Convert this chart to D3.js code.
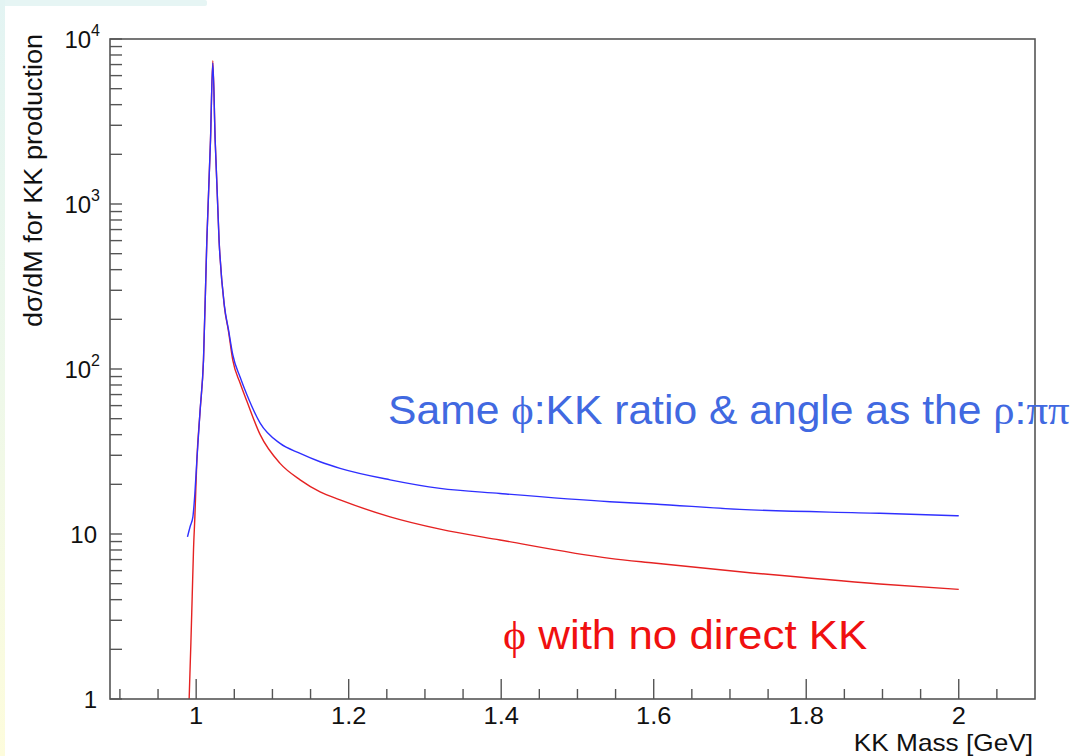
<!DOCTYPE html>
<html>
<head>
<meta charset="utf-8">
<script src="https://cdn.jsdelivr.net/npm/d3@7"></script>
<style>
  html, body { margin: 0; padding: 0; background: #fff; }
  svg { display: block; }
  text { font-family: "Liberation Sans", Arial, Helvetica, sans-serif; }
</style>
</head>
<body>
<svg id="chart" width="1080" height="756"></svg>
<script>
// KK invariant mass (GeV) and cross section, phi only (no direct KK)
const massNoDirect = [0.9890, 0.9908, 0.9931, 0.9948, 0.9965, 0.9983, 1.0009, 1.0052, 1.0096, 1.0140,
  1.0188, 1.0218, 1.0249, 1.0300, 1.0370, 1.0425, 1.0480, 1.0577, 1.0664, 1.0839, 1.1100,
  1.1363, 1.1625, 1.1887, 1.2543, 1.3198, 1.3984, 1.5426, 1.6000, 1.7130, 1.8965, 2.0000];
const xsecNoDirect = [0.45, 1.0, 2.2, 4.2, 8.0, 12.7, 28, 56, 113, 605,
  2440, 7400, 2440, 605, 239, 168, 113, 82, 64, 40, 26.8,
  21.3, 18.0, 16.1, 12.7, 10.7, 9.2, 7.12, 6.67, 5.91, 4.98, 4.62];

// Same phi:KK ratio and angle as rho:pipi
const massSameRatio = [0.9886, 0.9921, 0.9957, 0.9983, 1.0009, 1.0052, 1.0096, 1.0140, 1.0188, 1.0218,
  1.0249, 1.0300, 1.0370, 1.0425, 1.0480, 1.0577, 1.0664, 1.0839, 1.1100, 1.1363, 1.1625,
  1.1887, 1.2543, 1.3198, 1.3984, 1.5426, 1.6000, 1.7130, 1.8965, 2.0000];
const xsecSameRatio = [9.6, 11.1, 12.7, 17.6, 28, 56.5, 113, 605, 2440, 7150,
  2440, 605, 242, 172, 122, 89, 70, 47, 35.4, 30.8, 27.4,
  25, 21.3, 18.9, 17.6, 15.7, 15.2, 14.1, 13.35, 12.9];

// Axis ticks
const xMajorTicks = [1.0, 1.2, 1.4, 1.6, 1.8, 2.0];
const xTickLabels = ["1", "1.2", "1.4", "1.6", "1.8", "2"];
const xMinorTicks = [0.90, 0.95, 1.05, 1.10, 1.15, 1.25, 1.30, 1.35, 1.45, 1.50, 1.55,
  1.65, 1.70, 1.75, 1.85, 1.90, 1.95, 2.05];
const yDecades = [1, 10, 100, 1000, 10000];
const yTickBase = ["1", "10", "10", "10", "10"];
const yTickExp = ["", "", "2", "3", "4"];

const svg = d3.select("#chart");
const W = 1080, H = 756;
const frame = { left: 110, right: 1035, top: 39, bottom: 699 };

// slide background strips
const defs = svg.append("defs");
const grad = defs.append("linearGradient").attr("id", "sideGrad")
  .attr("x1", 0).attr("y1", 0).attr("x2", 0).attr("y2", 1);
grad.append("stop").attr("offset", "0%").attr("stop-color", "#e3f4f3");
grad.append("stop").attr("offset", "50%").attr("stop-color", "#eef8ea");
grad.append("stop").attr("offset", "100%").attr("stop-color", "#fdfcdc");
svg.append("rect").attr("x", 0).attr("y", 0).attr("width", W).attr("height", H).attr("fill", "#fff");
svg.append("rect").attr("x", 0).attr("y", 0).attr("width", 207).attr("height", 6).attr("rx", 2).attr("fill", "#e6f5f4");
svg.append("rect").attr("x", 0).attr("y", 0).attr("width", 5).attr("height", H).attr("fill", "url(#sideGrad)");

const x = d3.scaleLinear().domain([0.887, 2.1]).range([frame.left, frame.right]);
const y = d3.scaleLog().domain([1, 10000]).range([frame.bottom, frame.top]);

defs.append("clipPath").attr("id", "plotClip").append("rect")
  .attr("x", frame.left).attr("y", frame.top)
  .attr("width", frame.right - frame.left).attr("height", frame.bottom - frame.top);

// curves
const line = d3.line()
  .x(d => x(d[0]))
  .y(d => y(d[1]))
  .curve(d3.curveMonotoneX);

const curves = svg.append("g").attr("clip-path", "url(#plotClip)");
curves.append("path")
  .datum(d3.zip(massNoDirect, xsecNoDirect))
  .attr("d", line)
  .attr("fill", "none").attr("stroke", "#e52222").attr("stroke-width", 1.4);
curves.append("path")
  .datum(d3.zip(massSameRatio, xsecSameRatio))
  .attr("d", line)
  .attr("fill", "none").attr("stroke", "#2f2fff").attr("stroke-width", 1.4);

// frame
const axisColor = "#555";
svg.append("rect")
  .attr("x", frame.left).attr("y", frame.top)
  .attr("width", frame.right - frame.left).attr("height", frame.bottom - frame.top)
  .attr("fill", "none").attr("stroke", axisColor).attr("stroke-width", 1.6);

// text placed with a slight horizontal widening of the glyphs
function wideText(parent, px, py, sx, rot) {
  const tr = `translate(${px},${py})` + (rot ? ` rotate(${rot})` : "") + ` scale(${sx},1)`;
  return parent.append("text").attr("transform", tr).attr("x", 0).attr("y", 0);
}

// x ticks
const gx = svg.append("g");
gx.selectAll("line.maj").data(xMajorTicks).join("line")
  .attr("x1", d => x(d)).attr("x2", d => x(d))
  .attr("y1", frame.bottom).attr("y2", frame.bottom - 20)
  .attr("stroke", axisColor).attr("stroke-width", 1.4);
gx.selectAll("line.min").data(xMinorTicks).join("line")
  .attr("x1", d => x(d)).attr("x2", d => x(d))
  .attr("y1", frame.bottom).attr("y2", frame.bottom - 10)
  .attr("stroke", axisColor).attr("stroke-width", 1.4);
xMajorTicks.forEach((d, i) => {
  wideText(gx, x(d), 724, 1.06)
    .attr("text-anchor", "middle").attr("font-size", 24).attr("fill", "#111")
    .text(xTickLabels[i]);
});

// y ticks (log: decades plus 2..9 minors)
const yMinor = [];
yDecades.slice(0, -1).forEach(dec => { for (let k = 2; k <= 9; k++) yMinor.push(dec * k); });
const gy = svg.append("g");
gy.selectAll("line").data(yDecades.concat(yMinor)).join("line")
  .attr("x1", frame.left).attr("x2", frame.left + 12)
  .attr("y1", d => y(d)).attr("y2", d => y(d))
  .attr("stroke", axisColor).attr("stroke-width", 1.4);
yDecades.forEach((d, i) => {
  const t = gy.append("text")
    .attr("y", y(d) + 9)
    .attr("font-size", 24).attr("fill", "#111").attr("text-anchor", "end");
  if (yTickExp[i]) {
    t.attr("x", 100);
    t.append("tspan").text(yTickBase[i]);
    t.append("tspan").attr("font-size", 16).attr("dy", -12).text(yTickExp[i]);
  } else {
    t.attr("x", 97).text(yTickBase[i]);
  }
});

// axis titles
wideText(svg, 1033, 751, 1.14)
  .attr("text-anchor", "end").attr("font-size", 23).attr("fill", "#111")
  .text("KK Mass [GeV]");
wideText(svg, 42, 327, 1.04, -90)
  .attr("text-anchor", "start").attr("font-size", 26).attr("fill", "#111")
  .text("dσ/dM for KK production");

// curve annotations
const serif = "'Liberation Serif', 'Times New Roman', serif";
const blueNote = wideText(svg, 388, 424, 1.04)
  .attr("font-size", 41).attr("fill", "#4169e1");
blueNote.append("tspan").text("Same ");
blueNote.append("tspan").attr("font-family", serif).text("ϕ");
blueNote.append("tspan").text(":KK ratio & angle as the ");
blueNote.append("tspan").attr("font-family", serif).text("ρ");
blueNote.append("tspan").text(":");
blueNote.append("tspan").attr("font-family", serif).text("ππ");

const redNote = wideText(svg, 503, 649, 1.07)
  .attr("font-size", 41).attr("fill", "#f01010");
redNote.append("tspan").attr("font-family", serif).text("ϕ");
redNote.append("tspan").text(" with no direct KK");
</script>
</body>
</html>
